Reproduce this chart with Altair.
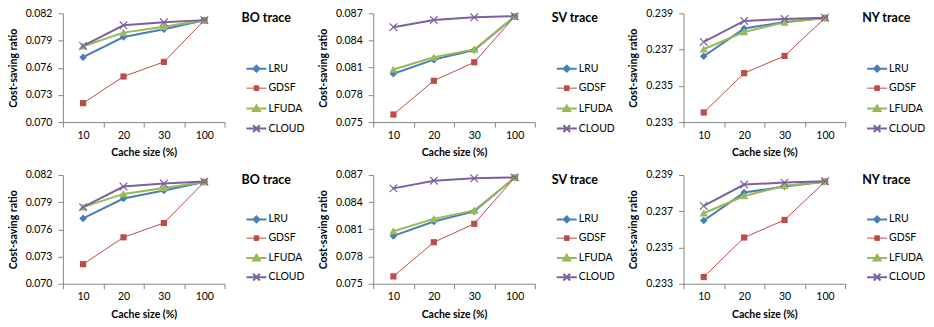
import math
import altair as alt
import pandas as pd

cache_sizes = ["10", "20", "30", "100"]
series_names = ["LRU", "GDSF", "LFUDA", "CLOUD"]
line_colors = ["#4A7EBB", "#BE4B48", "#98B954", "#7D60A0"]
marker_colors = ["#4A7EBB", "#BE4B48", "#9BBB59", "#7D60A0"]
line_widths = [2, 1, 2, 2]

# ---- top row ----
bo_lru = [0.07716, 0.07939, 0.08024, 0.08123]
bo_gdsf = [0.07209, 0.07503, 0.07664, 0.08123]
bo_lfuda = [0.07837, 0.07987, 0.08053, 0.08123]
bo_cloud = [0.07840, 0.08068, 0.08101, 0.08125]

sv_lru = [0.08033, 0.08189, 0.08295, 0.08664]
sv_gdsf = [0.07584, 0.07956, 0.08160, 0.08664]
sv_lfuda = [0.08080, 0.08215, 0.08302, 0.08664]
sv_cloud = [0.08547, 0.08627, 0.08656, 0.08668]

ny_lru = [0.23663, 0.23816, 0.23852, 0.23874]
ny_gdsf = [0.23353, 0.23570, 0.23665, 0.23874]
ny_lfuda = [0.23702, 0.23797, 0.23850, 0.23874]
ny_cloud = [0.23742, 0.23858, 0.23869, 0.23876]

# ---- bottom row ----
bo2_lru = [0.07721, 0.07940, 0.08028, 0.08123]
bo2_gdsf = [0.07216, 0.07512, 0.07670, 0.08123]
bo2_lfuda = [0.07845, 0.07991, 0.08057, 0.08123]
bo2_cloud = [0.07845, 0.08072, 0.08105, 0.08127]

sv2_lru = [0.08028, 0.08187, 0.08298, 0.08670]
sv2_gdsf = [0.07581, 0.07958, 0.08161, 0.08670]
sv2_lfuda = [0.08080, 0.08216, 0.08309, 0.08670]
sv2_cloud = [0.08552, 0.08637, 0.08663, 0.08672]

ny2_lru = [0.23649, 0.23803, 0.23836, 0.23863]
ny2_gdsf = [0.23337, 0.23555, 0.23652, 0.23863]
ny2_lfuda = [0.23689, 0.23784, 0.23841, 0.23863]
ny2_cloud = [0.23729, 0.23847, 0.23858, 0.23865]

bo_domain, bo_ticks = [0.070, 0.082], [0.070, 0.073, 0.076, 0.079, 0.082]
sv_domain, sv_ticks = [0.075, 0.087], [0.075, 0.078, 0.081, 0.084, 0.087]
ny_domain, ny_ticks = [0.233, 0.239], [0.233, 0.235, 0.237, 0.239]

FONT = "Lato"
PLOT_SYM = 324   # marker symbol size in the plot  (unit -> 9 px)
LEG_SYM = 400    # legend symbol size               (unit -> 10 px)


def fmt(pts, k):
    return "M" + "L".join(f"{x / k:.3f},{y / k:.3f}" for x, y in pts) + "Z"


def marker_polys(shrink=0.0):
    d = 3.8 - shrink
    q = 3.1 - shrink
    return [
        [(0, -d), (d, 0), (0, d), (-d, 0)],
        [(-q, -q), (q, -q), (q, q), (-q, q)],
        [(0, -3.9 + shrink), (4.2 - shrink, 3.3 - shrink), (-4.2 + shrink, 3.3 - shrink)],
    ]


def x_poly(a, t):
    h = t / math.sqrt(2)
    s = t * math.sqrt(2)
    return [(a + h, a - h), (a - h, a + h), (0, s), (-a + h, a + h), (-a - h, a - h), (-s, 0),
            (-a - h, -a + h), (-a + h, -a - h), (0, -s), (a - h, -a - h), (a + h, -a + h), (s, 0)]


k_plot = math.sqrt(PLOT_SYM) / 2
plot_shapes = [fmt(p, k_plot) for p in marker_polys()] + [fmt(x_poly(3.8, 0.6), k_plot)]

k_leg = math.sqrt(LEG_SYM) / 2
a = 3.4 / k_leg
legend_shapes = [f"M-1,0L1,0{fmt(p, k_leg)}" for p in marker_polys(0.8)] + [
    f"M-1,0L1,0M{-a:.3f},{-a:.3f}L{a:.3f},{a:.3f}M{-a:.3f},{a:.3f}L{a:.3f},{-a:.3f}"
]


def panel(title, values, y_domain, y_ticks, legend_y, title_pad, row_pad):
    rows = []
    for s, vals in zip(series_names, values):
        for i, (c, v) in enumerate(zip(cache_sizes, vals)):
            rows.append({"cache": c, "series": s, "value": v, "idx": i})
    df = pd.DataFrame(rows)

    x = alt.X("cache:N", sort=cache_sizes,
              scale=alt.Scale(type="band", paddingInner=0, paddingOuter=0),
              axis=alt.Axis(title="Cache size (%)", labelAngle=0, tickBand="extent",
                            labelPadding=3, titlePadding=7))
    y = alt.Y("value:Q", scale=alt.Scale(domain=y_domain, nice=False, zero=False),
              axis=alt.Axis(values=y_ticks, format=".3f", title="Cost-saving ratio",
                            labelPadding=6, titlePadding=7))

    leg = alt.Legend(title=title, orient="none", legendX=179, legendY=legend_y,
                     titlePadding=title_pad, titleFont=FONT, titleFontSize=12.5,
                     titleFontWeight="bold", titleColor="#000", labelFont=FONT,
                     labelFontSize=10.5, labelColor="#000", labelOffset=1, symbolOffset=4,
                     symbolSize=LEG_SYM, rowPadding=row_pad, padding=0, gridAlign="all")

    base = alt.Chart(df)
    lines = base.mark_line().encode(
        x=x, y=y, order="idx:Q",
        color=alt.Color("series:N", scale=alt.Scale(domain=series_names, range=line_colors),
                        legend=leg),
        strokeWidth=alt.StrokeWidth("series:N",
                                    scale=alt.Scale(type="ordinal", domain=series_names,
                                                    range=line_widths),
                                    legend=leg),
    )
    # legend symbols (line + marker); this layer draws no marks in the plot
    legend_layer = base.transform_filter("false").mark_point(filled=True, opacity=1).encode(
        x=x, y=y,
        fill=alt.Fill("series:N", scale=alt.Scale(domain=series_names, range=marker_colors),
                      legend=leg),
        shape=alt.Shape("series:N", scale=alt.Scale(domain=series_names, range=legend_shapes),
                        legend=leg),
    )
    markers = [
        base.transform_filter(alt.datum.series == s).mark_point(
            filled=True, opacity=1, size=PLOT_SYM, shape=shp, fill=col, strokeWidth=0
        ).encode(x=x, y=y)
        for s, shp, col in zip(series_names, plot_shapes, marker_colors)
    ]
    return alt.layer(lines, *markers, legend_layer).properties(width=162, height=109)


top = dict(legend_y=-1, title_pad=33, row_pad=1)
bot = dict(legend_y=-1, title_pad=22, row_pad=0.3)

charts = [
    panel("BO trace", [bo_lru, bo_gdsf, bo_lfuda, bo_cloud], bo_domain, bo_ticks, **top),
    panel("SV trace", [sv_lru, sv_gdsf, sv_lfuda, sv_cloud], sv_domain, sv_ticks, **top),
    panel("NY trace", [ny_lru, ny_gdsf, ny_lfuda, ny_cloud], ny_domain, ny_ticks, **top),
    panel("BO trace", [bo2_lru, bo2_gdsf, bo2_lfuda, bo2_cloud], bo_domain, bo_ticks, **bot),
    panel("SV trace", [sv2_lru, sv2_gdsf, sv2_lfuda, sv2_cloud], sv_domain, sv_ticks, **bot),
    panel("NY trace", [ny2_lru, ny2_gdsf, ny2_lfuda, ny2_cloud], ny_domain, ny_ticks, **bot),
]

chart = alt.concat(
    *charts, columns=3, spacing={"row": 53, "column": 149}, bounds="flush",
    padding={"left": 0, "top": 0, "right": 0, "bottom": 0},
).resolve_scale(
    x="independent", y="independent", color="independent", fill="independent",
    shape="independent", strokeWidth="independent",
).resolve_legend(
    color="independent", fill="independent", shape="independent", strokeWidth="independent",
).configure(font=FONT).configure_view(stroke=None).configure_axis(
    domainColor="#868686", tickColor="#868686", labelColor="#000", titleColor="#000",
    labelFont=FONT, titleFont=FONT, labelFontSize=10.5, titleFontSize=10.5,
    titleFontWeight="bold", grid=False, tickSize=5, domainWidth=1, tickWidth=1,
)

chart.save("out.html", embed_options={"renderer": "svg", "actions": False})
